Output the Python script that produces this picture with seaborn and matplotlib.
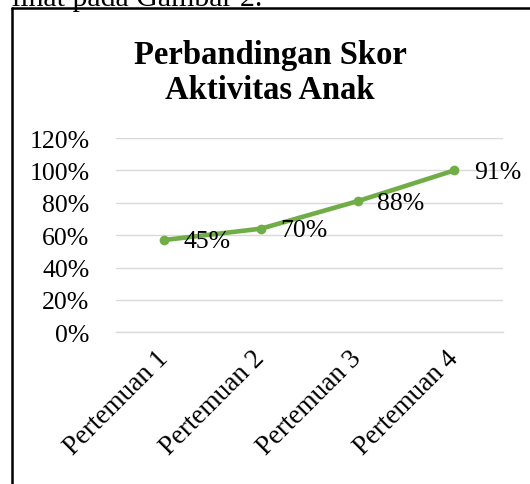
import pandas as pd
import seaborn as sns
import matplotlib.pyplot as plt
from matplotlib.lines import Line2D
from matplotlib.ticker import FixedLocator

# data (point heights) and the printed labels
pertemuan = ['Pertemuan 1', 'Pertemuan 2', 'Pertemuan 3', 'Pertemuan 4']
skor = [57, 64, 81, 100]
label_skor = ['45%', '70%', '88%', '91%']
y_ticks = [0, 20, 40, 60, 80, 100, 120]

df = pd.DataFrame({'Pertemuan': pertemuan, 'Skor': skor})

sns.set_style('white')
plt.rcParams['font.family'] = ['Liberation Serif', 'DejaVu Serif']
plt.rcParams['text.color'] = 'black'
plt.rcParams['xtick.color'] = 'black'
plt.rcParams['ytick.color'] = 'black'

fig = plt.figure(figsize=(5.3, 4.85), dpi=100)
ax = fig.add_axes([116/530, 1 - 333.3/485, (502.7-116)/530, (333.3-139)/485])

sns.lineplot(data=df, x='Pertemuan', y='Skor', ax=ax, sort=False,
             color='#70AD47', linewidth=3.3, marker='o', markersize=7,
             markeredgewidth=0)

for i, (v, lab) in enumerate(zip(skor, label_skor)):
    ax.annotate(lab, (i, v), xytext=(14, -1), textcoords='offset points',
                ha='left', va='center', fontsize=18.5, color='black')

ax.set_xlim(-0.5, 3.5)
ax.set_ylim(0, 120)
ax.set_yticks(y_ticks)
ax.set_yticklabels([f'{t}%' for t in y_ticks], fontsize=18.5)
ax.set_xticks(range(len(pertemuan)))
ax.set_xticklabels(pertemuan, fontsize=19.5, rotation=45, ha='right',
                   va='center', rotation_mode='anchor')
ax.xaxis.set_minor_locator(FixedLocator([-0.5, 0.5, 1.5, 2.5, 3.5]))
ax.tick_params(axis='x', which='major', length=0, pad=16)
ax.tick_params(axis='x', which='minor', length=6, color='#d9d9d9', width=1)
ax.tick_params(axis='y', length=0, pad=19)
ax.set_xlabel('')
ax.set_ylabel('')
ax.grid(axis='y', color='#d9d9d9', linewidth=1)
ax.set_axisbelow(True)
for s in ['left', 'right', 'top']:
    ax.spines[s].set_visible(False)
ax.spines['bottom'].set_color('#d9d9d9')
ax.spines['bottom'].set_linewidth(1)

# chart title
fig.text(270/530, 1 - 73/485, 'Perbandingan Skor\nAktivitas Anak',
         ha='center', va='center', fontsize=23.5, fontweight='bold',
         linespacing=1.18)

# frame of the chart box and the cut-off page text above it
fig.add_artist(Line2D([12/530, 12/530], [0, 1 - 9/485], color='black', lw=1.8))
fig.add_artist(Line2D([12/530, 1], [1 - 9/485, 1 - 9/485], color='black', lw=1.8))
fig.text(262/530, 1 - 6/485, 'lihat pada Gambar 2.', ha='right', va='baseline',
         fontsize=21.5)

fig.savefig('out.png', dpi=100)
